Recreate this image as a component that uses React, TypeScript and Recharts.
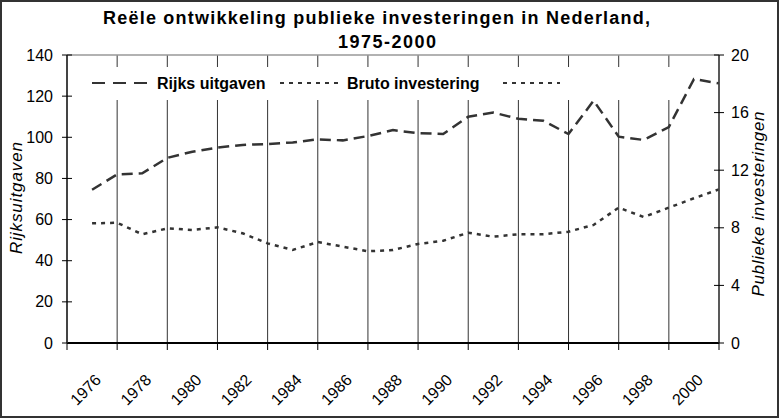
import React from 'react';
import { LineChart, Line, XAxis, YAxis, CartesianGrid, ReferenceLine, ReferenceArea } from 'recharts';

const years = [
  1975, 1976, 1977, 1978, 1979, 1980, 1981, 1982, 1983, 1984, 1985, 1986, 1987,
  1988, 1989, 1990, 1991, 1992, 1993, 1994, 1995, 1996, 1997, 1998, 1999, 2000,
];
const rijksUitgaven = [
  74.5, 82, 82.5, 90, 93, 95, 96.3, 96.7, 97.5, 99, 98.5, 100.6, 103.5,
  102, 101.6, 110, 112, 109, 108, 101.6, 117.8, 100.3, 98.7, 105, 128.3, 126.2,
];
const brutoInvestering = [
  8.31, 8.35, 7.55, 7.96, 7.85, 8.03, 7.62, 6.92, 6.46, 7.01, 6.69, 6.37, 6.46,
  6.88, 7.1, 7.66, 7.38, 7.55, 7.55, 7.73, 8.2, 9.4, 8.75, 9.4, 10.05, 10.67,
];
const yearTicks = [1974, 1976, 1978, 1980, 1982, 1984, 1986, 1988, 1990, 1992, 1994, 1996, 1998, 2000];
const leftTicks = [0, 20, 40, 60, 80, 100, 120, 140];
const rightTicks = [0, 4, 8, 12, 16, 20];

const data = years.map((year, i) => ({
  year,
  rijks: rijksUitgaven[i],
  bruto: brutoInvestering[i],
}));

const FONT = '"Liberation Sans", Arial, sans-serif';
const LINE_COLOR = '#333';

const XTick = (props: any) => {
  const { x, y, payload } = props;
  if (payload.value === 1974) return null;
  return (
    <text
      transform={`translate(${x - 15},${y + 31}) rotate(-45)`}
      textAnchor="end"
      fontSize={16}
      fontFamily={FONT}
      fill="#000"
    >
      {payload.value}
    </text>
  );
};

const LeftTick = (props: any) => {
  const { x, y, payload } = props;
  return (
    <g>
      <line x1={x + 9} x2={x + 19} y1={y} y2={y} stroke="#000" strokeWidth={1} />
      <text x={x} y={y} dy={5.5} textAnchor="end" fontSize={16} fontFamily={FONT} fill="#000">
        {payload.value}
      </text>
    </g>
  );
};

const RightTick = (props: any) => {
  const { x, y, payload } = props;
  return (
    <g>
      <line x1={x - 17} x2={x - 7} y1={y} y2={y} stroke="#000" strokeWidth={1} />
      <text x={x} y={y} dy={5.5} textAnchor="start" fontSize={16} fontFamily={FONT} fill="#000">
        {payload.value}
      </text>
    </g>
  );
};

export default function App() {
  return (
    <div style={{ position: 'absolute', left: 0, top: 0, width: 779, height: 418, background: '#fff' }}>
      <LineChart
        width={779}
        height={418}
        data={data}
        margin={{ top: 55, right: 20, bottom: 15, left: 17 }}
      >
        <CartesianGrid horizontal={false} stroke="#333" strokeWidth={1} />
        {/* white legend box: hides the grid but stays under the series */}
        <ReferenceArea
          yAxisId="left"
          x1={1974.08}
          x2={1999.92}
          y1={118.1}
          y2={134.2}
          fill="#fff"
          fillOpacity={1}
          stroke="none"
          ifOverflow="hidden"
        />
        <XAxis
          dataKey="year"
          type="number"
          domain={[1974, 2000]}
          ticks={yearTicks}
          interval={0}
          height={60}
          tickSize={7}
          tickMargin={0}
          tick={<XTick />}
          axisLine={{ stroke: '#000', strokeWidth: 2 }}
          tickLine={{ stroke: '#000' }}
        />
        <YAxis
          yAxisId="left"
          domain={[0, 140]}
          ticks={leftTicks}
          interval={0}
          width={50}
          tickSize={5}
          tickMargin={9}
          tickLine={false}
          tick={<LeftTick />}
          axisLine={{ stroke: '#444', strokeWidth: 2 }}
        />
        <YAxis
          yAxisId="right"
          orientation="right"
          domain={[0, 20]}
          ticks={rightTicks}
          interval={0}
          width={40}
          tickSize={5}
          tickMargin={7}
          tickLine={false}
          tick={<RightTick />}
          axisLine={{ stroke: '#444', strokeWidth: 1.5 }}
        />
        <ReferenceLine yAxisId="left" y={140} stroke="#999" strokeWidth={1.5} />
        <Line
          yAxisId="left"
          dataKey="rijks"
          name="Rijks uitgaven"
          type="linear"
          stroke={LINE_COLOR}
          strokeWidth={2.5}
          strokeDasharray="11 6"
          dot={false}
          isAnimationActive={false}
        />
        <Line
          yAxisId="right"
          dataKey="bruto"
          name="Bruto investering"
          type="linear"
          stroke={LINE_COLOR}
          strokeWidth={2.5}
          strokeDasharray="4 5"
          dot={false}
          isAnimationActive={false}
        />
      </LineChart>

      <svg
        width={779}
        height={418}
        style={{ position: 'absolute', left: 0, top: 0, pointerEvents: 'none' }}
      >
        {/* title */}
        <text x={103} y={24} fontSize={18} fontWeight="bold" fontFamily={FONT} textLength={547} lengthAdjust="spacing">
          Reële ontwikkeling publieke investeringen in Nederland,
        </text>
        <text x={338} y={48} fontSize={18} fontWeight="bold" fontFamily={FONT} textLength={98} lengthAdjust="spacing">
          1975-2000
        </text>

        {/* axis titles */}
        <text
          transform="translate(22,198) rotate(-90)"
          textAnchor="middle"
          fontSize={17}
          fontStyle="italic"
          fontFamily={FONT}
          textLength={112}
          lengthAdjust="spacing"
        >
          Rijksuitgaven
        </text>
        <text
          transform="translate(764,204) rotate(-90)"
          textAnchor="middle"
          fontSize={17}
          fontStyle="italic"
          fontFamily={FONT}
          textLength={185}
          lengthAdjust="spacing"
        >
          Publieke investeringen
        </text>

        {/* legend */}
        <line x1={92} x2={147} y1={83} y2={83} stroke={LINE_COLOR} strokeWidth={2} strokeDasharray="13 8" />
        <text x={157} y={89} fontSize={16} fontWeight="bold" fontFamily={FONT}>Rijks uitgaven</text>
        <line x1={280} x2={338} y1={83} y2={83} stroke={LINE_COLOR} strokeWidth={2} strokeDasharray="4 5" />
        <text x={347} y={89} fontSize={16} fontWeight="bold" fontFamily={FONT}>Bruto investering</text>
        <line x1={503} x2={560} y1={83} y2={83} stroke={LINE_COLOR} strokeWidth={2} strokeDasharray="4 5" />
      </svg>

      <div
        style={{
          position: 'absolute',
          left: 0,
          top: 0,
          width: 779,
          height: 418,
          boxSizing: 'border-box',
          border: '2px solid #333',
          pointerEvents: 'none',
        }}
      />
    </div>
  );
}
